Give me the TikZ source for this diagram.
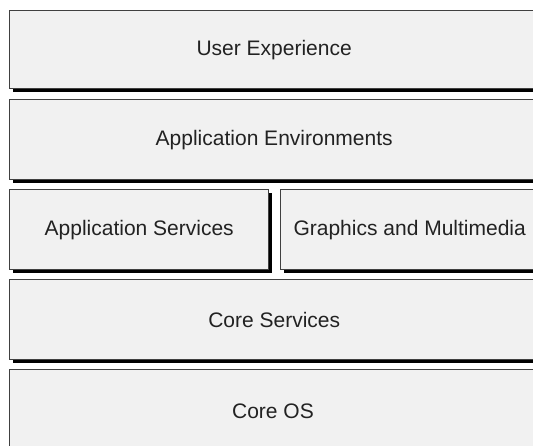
\documentclass[tikz,border=0pt]{standalone}
\usepackage{fontspec}
\setmainfont{Liberation Sans}
\usetikzlibrary{shadows}
\definecolor{boxfill}{HTML}{F1F1F1}
\definecolor{txt}{HTML}{222222}
\tikzset{
  layer/.style={draw=black!75, line width=1.4pt, fill=boxfill, anchor=north west,
    minimum height=80pt, inner sep=0pt, text=txt,
    font=\fontsize{21}{25}\selectfont,
    drop shadow={shadow xshift=3.2pt, shadow yshift=-3.2pt, fill=black, opacity=1}},
}
\begin{document}
\begin{tikzpicture}[x=1pt,y=-1pt]
\useasboundingbox (0,0) rectangle (533,445);
\clip (0,0) rectangle (533,445);
\fill[white] (0,0) rectangle (533,445);
\node[layer, minimum width=529pt, minimum height=78pt] (ux) at (9,10) {User Experience};
\node[layer, minimum width=529pt] (ae) at (9,99) {Application Environments};
\node[layer, minimum width=259pt] (as) at (9,189) {Application Services};
\node[layer, minimum width=258pt] (gm) at (280,189) {Graphics and Multimedia};
\node[layer, minimum width=529pt] (cs) at (9,279) {Core Services};
\node[layer, minimum width=529pt, minimum height=82pt] (os) at (9,369) {};
\node[text=txt, font=\fontsize{21}{25}\selectfont] (ostext) at (273,411) {Core OS};
\end{tikzpicture}
\end{document}
